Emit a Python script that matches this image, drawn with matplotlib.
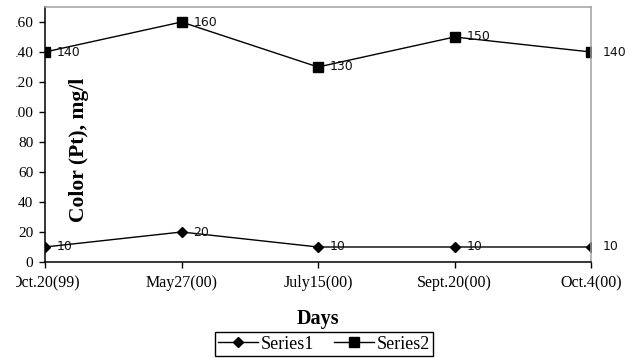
import matplotlib
matplotlib.use('Agg')
from matplotlib import pyplot as plt
from matplotlib.patches import Rectangle

days = ['Oct.20(99)', 'May27(00)', 'July15(00)', 'Sept.20(00)', 'Oct.4(00)']
series1 = [10, 20, 10, 10, 10]
series2 = [140, 160, 130, 150, 140]
yticks = [0, 20, 40, 60, 80, 100, 120, 140, 160]

plt.rcParams['font.family'] = ['Liberation Serif', 'DejaVu Serif']

W, H = 635, 358
fig = plt.figure(figsize=(W / 100, H / 100), dpi=100)
ax = fig.add_axes([45 / W, 1 - 262 / H, 546 / W, 255 / H])

x = list(range(len(days)))
l1, = ax.plot(x, series1, color='black', lw=1, marker='D', markersize=5.5,
              label='Series1')
l2, = ax.plot(x, series2, color='black', lw=1, marker='s', markersize=6.5,
              label='Series2')

for xi, v in zip(x, series1):
    ax.annotate(str(v), (xi, v), xytext=(8.5, 0), textcoords='offset points',
                va='center', ha='left', fontsize=9, family='DejaVu Sans',
                color='#111111', annotation_clip=False)
for xi, v in zip(x, series2):
    ax.annotate(str(v), (xi, v), xytext=(8.5, 0), textcoords='offset points',
                va='center', ha='left', fontsize=9, family='DejaVu Sans',
                color='#111111', annotation_clip=False)

ax.set_xlim(0, len(days) - 1)
ax.set_ylim(0, 170)
ax.set_xticks(x)
ax.set_xticklabels(days, fontsize=11.5)
ax.set_yticks(yticks)
ax.set_yticklabels([str(t) for t in yticks], fontsize=11)
ax.tick_params(axis='y', direction='out', length=4.3, width=1, pad=4)
ax.tick_params(axis='x', direction='out', length=4.3, width=1, pad=5)

ax.spines['left'].set_linewidth(1.1)
ax.spines['bottom'].set_linewidth(1.1)
for s in ['top', 'right']:
    ax.spines[s].set_color('#a0a0a0')
    ax.spines[s].set_linewidth(1.1)

ax.text(0.062, 0.44, 'Color (Pt), mg/l', transform=ax.transAxes,
        rotation=90, ha='center', va='center', fontsize=15.5, fontweight='bold')

fig.text(318 / W, 1 - 319 / H, 'Days', ha='center', va='center',
         fontsize=14.5, fontweight='bold')

leg = fig.legend(handles=[l1, l2], loc='upper center',
                 bbox_to_anchor=(324 / W, 1 - 332 / H), ncol=2,
                 fontsize=13, frameon=True, fancybox=False, framealpha=1,
                 edgecolor='black', handlelength=2.2, handletextpad=0.15,
                 columnspacing=1.1, borderpad=0.2, borderaxespad=0)
leg.get_frame().set_linewidth(1)

# the scanned original is cut off along the left edge
fig.add_artist(Rectangle((0, 0), 16 / W, 1, transform=fig.transFigure,
                         facecolor='white', edgecolor='none', zorder=10))

plt.savefig('out.png', dpi=100)
